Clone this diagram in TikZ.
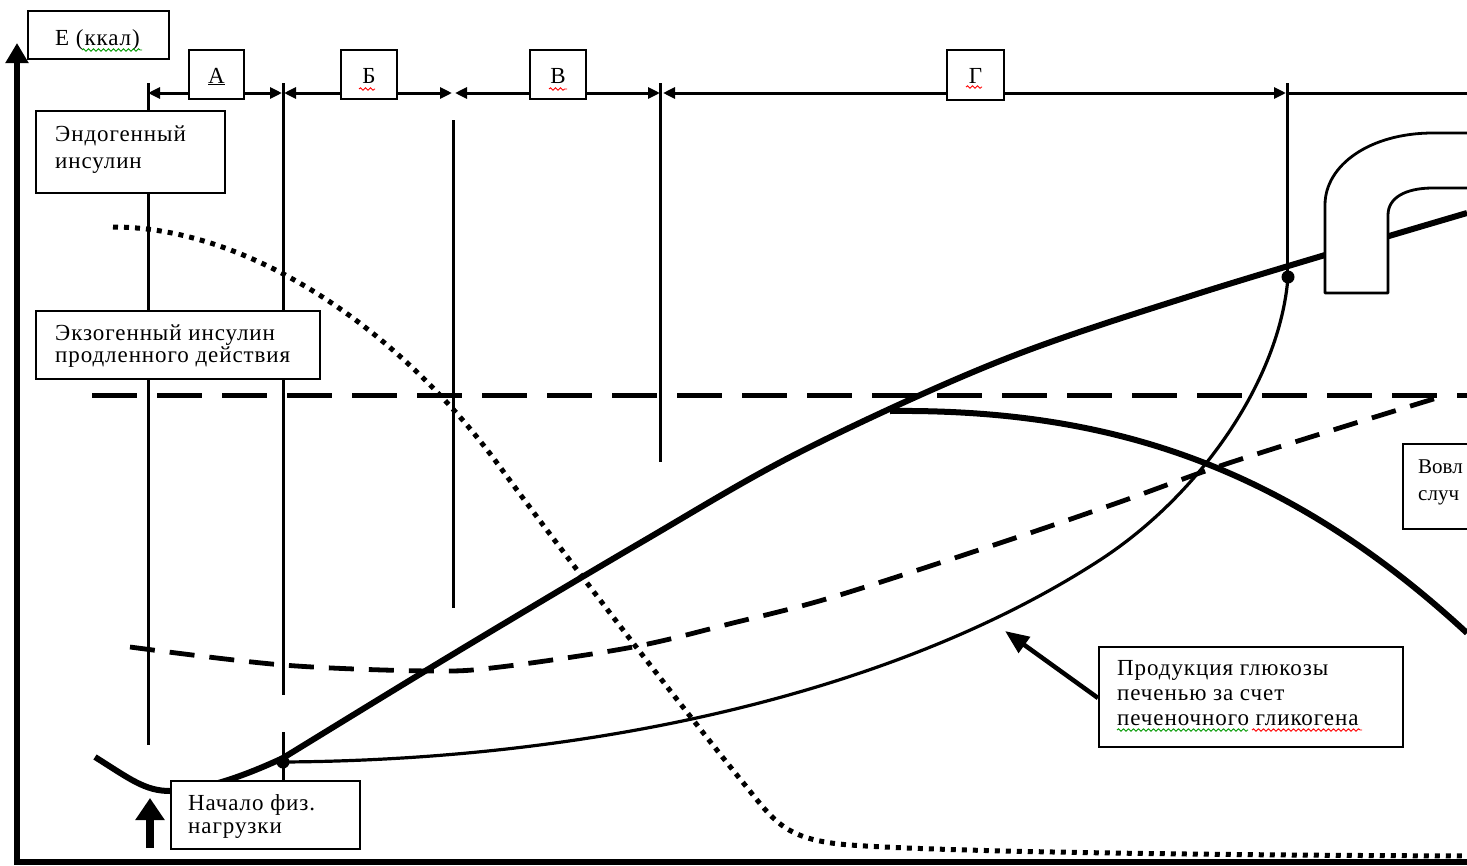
\documentclass[tikz,border=0pt]{standalone}
\usepackage{fontspec}
\setmainfont{Liberation Serif}[LetterSpace=4.0]
\newfontfamily\tightserif{Liberation Serif}
\usetikzlibrary{arrows.meta,decorations.pathmorphing}
\begin{document}
\begin{tikzpicture}[x=1pt,y=-1pt,
  box/.style={draw=black, line width=2pt, fill=white, inner sep=0pt, anchor=north west},
  txt/.style={inner sep=0pt, anchor=base west, font=\fontsize{23}{23}\selectfont},
  lbl/.style={inner sep=0pt, anchor=base, font=\fontsize{23}{23}\selectfont},
  vline/.style={line width=3pt},
  dimarr/.style={line width=3pt, {Triangle[length=12pt,width=11pt]}-{Triangle[length=12pt,width=11pt]}},
  thickc/.style={line width=6pt, line join=round},
  thinc/.style={line width=3.2pt},
  longdash/.style={line width=5pt, dash pattern=on 45pt off 20pt},
  meddash/.style={line width=4.8pt, dash pattern=on 25pt off 15pt},
  dotc/.style={line width=5pt, dash pattern=on 5pt off 6pt},
  squig/.style={line width=0.9pt, decorate, decoration={snake, amplitude=1.2pt, segment length=5pt}},
  dotnode/.style={circle, fill=black, inner sep=0pt, minimum size=13pt}
]
\useasboundingbox (0,0) rectangle (1467,865);
\fill[white] (0,0) rectangle (1467,865);

% coordinates
\coordinate (ax0) at (17,862);
\coordinate (axtop) at (17,43);
\coordinate (axr) at (1467,862);
\coordinate (d0) at (148,93);
\coordinate (d1) at (282,93);
\coordinate (d1b) at (284,93);
\coordinate (d2) at (452,93);
\coordinate (d2b) at (455,93);
\coordinate (d3) at (660,93);
\coordinate (d3b) at (663,93);
\coordinate (d4) at (1286,93);
\coordinate (d4b) at (1288,93);
\coordinate (d5) at (1467,93);

% vertical lines
\draw[vline] (148,83) -- (148,745);
\draw[vline] (283,83) -- (283,695);
\draw[vline] (283,732) -- (283,780);
\draw[vline] (453,120) -- (453,608);
\draw[vline] (660,83) -- (660,462);
\draw[vline] (1287,83) -- (1287,278);

% dimension line
\draw[dimarr] (d0) -- (d1);
\draw[dimarr] (d1b) -- (d2);
\draw[dimarr] (d2b) -- (d3);
\draw[dimarr] (d3b) -- (d4);
\draw[vline] (d4b) -- (d5);

% long dashed horizontal (exogenous insulin)
\draw[longdash] (92,395) -- (1467,395);

% dotted curve (endogenous insulin)
\draw[dotc] (113,227) .. controls (250,227) and (400,330) .. (500,467)
   .. controls (580,576) and (700,730) .. (745,785)
   .. controls (775,822) and (785,840) .. (850,845)
   .. controls (950,852) and (1200,855) .. (1467,856);

% medium dashed curve
\draw[meddash] plot[smooth, tension=0.55] coordinates {(130,647) (283,665) (430,671) (500,667) (633,647) (733,623) (833,597) (1000,543) (1117,503) (1217,467) (1333,430) (1440,397)};

% thin curve (glycogen)
\draw[thinc] (283,762) .. controls (600,760) and (900,690) .. (1100,560)
   .. controls (1200,495) and (1280,380) .. (1288,277);

% main thick curve
\draw[thickc] (95,757) .. controls (130,779) and (145,791) .. (170,791)
   .. controls (200,791) and (240,778) .. (283,758);
\draw[thickc] plot[smooth, tension=0.55] coordinates {(283,758) (450,656) (640,543) (800,452) (1000,361) (1200,293) (1467,213)};

% branch thick curve
\draw[thickc] (890,411) .. controls (1100,409) and (1280,460) .. (1467,633);

% dots
\node[dotnode] (p1) at (283,762) {};
\node[dotnode] (p2) at (1288,277) {};

% pipe shape
\fill[white] (1480,133) -- (1433,133) .. controls (1370,133) and (1325,165) .. (1325,205) -- (1325,293) -- (1388,293) -- (1388,215) .. controls (1388,198) and (1405,188) .. (1433,188) -- (1480,188) -- cycle;
\draw[line width=2.8pt, line join=round] (1480,133) -- (1433,133) .. controls (1370,133) and (1325,165) .. (1325,205) -- (1325,293) -- (1388,293) -- (1388,215) .. controls (1388,198) and (1405,188) .. (1433,188) -- (1480,188);

% axes
\draw[line width=6pt] (14,862) -- (axr);
\draw[line width=6pt, -{Triangle[length=20pt,width=22pt]}] (ax0) -- (axtop);

% boxes
\node[box, minimum width=141pt, minimum height=48pt] (ebox) at (27,10) {};
\node[txt] (etxt) at (55,45) {Е (ккал)};
\draw[squig, green!60!black] (82,50) -- (142,50);

\node[box, minimum width=55pt, minimum height=49pt] (boxA) at (188,49) {};
\node[lbl] (la) at (boxA.center |- 0,83) {\underline{А}};
\node[box, minimum width=56pt, minimum height=49pt] (boxB) at (340,49) {};
\node[lbl] (lb) at (boxB.center |- 0,83) {Б};
\draw[squig, red] (359,89) -- (375,89);
\node[box, minimum width=56pt, minimum height=49pt] (boxV) at (529,49) {};
\node[lbl] (lv) at (boxV.center |- 0,83) {В};
\draw[squig, red] (549,89) -- (567,89);
\node[box, minimum width=57pt, minimum height=50pt] (boxG) at (946,49) {};
\node[lbl] (lg) at (boxG.center |- 0,83) {Г};
\draw[squig, red] (966,87) -- (982,87);

\node[box, minimum width=189pt, minimum height=82pt] (endo) at (35,110) {};
\node[txt] (endo1) at (55,141) {Эндогенный};
\node[txt] (endo2) at (55,168) {инсулин};

\node[box, minimum width=284pt, minimum height=68pt] (exo) at (35,310) {};
\node[txt] (exo1) at (55,340) {Экзогенный инсулин};
\node[txt] (exo2) at (55,362) {продленного действия};

\node[box, minimum width=189pt, minimum height=68pt] (start) at (170,780) {};
\node[txt] (start1) at (188,810) {Начало физ.};
\node[txt] (start2) at (188,833) {нагрузки};

\node[box, minimum width=304pt, minimum height=100pt] (prod) at (1098,646) {};
\node[txt] (prod1) at (1117,675) {Продукция глюкозы};
\node[txt] (prod2) at (1117,700) {печенью за счет};
\node[txt] (prod3) at (1117,725) {печеночного гликогена};
\draw[squig, green!60!black] (1117,730) -- (1248,730);
\draw[squig, red] (1252,730) -- (1362,730);

\node[box, minimum width=80pt, minimum height=85pt] (vovl) at (1402,443) {};
\node[txt, font=\tightserif\fontsize{21}{21}\selectfont] (vovl1) at (1418,473) {Вовл};
\node[txt, font=\tightserif\fontsize{21}{21}\selectfont] (vovl2) at (1418,500) {случ};

% arrows
\coordinate (pa1) at (1098,698);
\coordinate (pa2) at (1005,631);
\draw[line width=4.5pt, -{Triangle[length=24pt,width=19pt]}] (pa1) -- (pa2);
\coordinate (ua1) at (150,848);
\coordinate (ua2) at (150,798);
\draw[line width=8pt, -{Triangle[length=22pt,width=28pt]}] (ua1) -- (ua2);
\end{tikzpicture}
\end{document}
